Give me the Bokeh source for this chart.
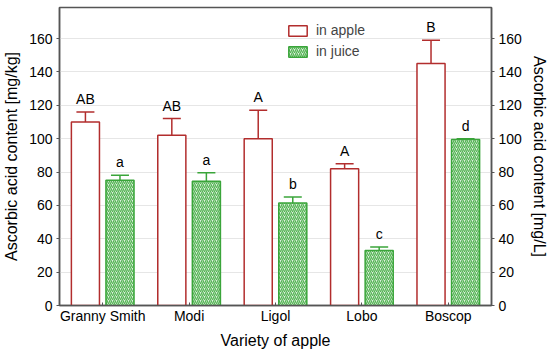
from bokeh.plotting import figure
from bokeh.models import (ColumnDataSource, FactorRange, LinearAxis, Whisker, TeeHead,
                          Range1d, Legend, LegendItem)
from bokeh.transform import dodge
from bokeh.core.properties import value
from bokeh.embed import file_html
from bokeh.resources import INLINE

varieties = ["Granny Smith", "Modi", "Ligol", "Lobo", "Boscop"]
apple_mean = [110, 102, 100, 82, 145]
apple_lower = [104.5, 92, 84, 80, 131]
apple_upper = [116, 112, 117, 85, 159]
apple_letters = ["AB", "AB", "A", "A", "B"]
juice_mean = [75, 74.5, 61.5, 33, 99.5]
juice_lower = [72, 69.5, 58, 32, 99]
juice_upper = [78, 79.5, 65, 35, 100]
juice_letters = ["a", "a", "b", "c", "d"]
y_ticks = [0, 20, 40, 60, 80, 100, 120, 140, 160]

FONT = "Liberation Sans"
RED = "#b22d2d"
GREEN = "#3aa53a"

src = ColumnDataSource(dict(
    cat=varieties,
    am=apple_mean, al=apple_lower, au=apple_upper, at=apple_letters,
    jm=juice_mean, jl=juice_lower, ju=juice_upper, jt=juice_letters,
))

p = figure(width=550, height=355, output_backend="svg", toolbar_location=None,
           x_range=FactorRange(*varieties, start=-0.2, end=5.24),
           y_range=Range1d(0, 178.6),
           min_border_left=58, min_border_right=58, min_border_top=7, min_border_bottom=50)

ab = p.vbar(x=dodge("cat", -0.2, range=p.x_range), top="am", width=0.325, source=src,
            fill_color="white", line_color=RED, line_width=1.5)
jb = p.vbar(x=dodge("cat", 0.2, range=p.x_range), top="jm", width=0.325, source=src,
            fill_color="#dcf0dc", line_color=GREEN, line_width=1.5,
            hatch_pattern="/", hatch_color="#55b455", hatch_scale=4, hatch_weight=1.3)

w1 = Whisker(source=src, base=dodge("cat", -0.2, range=p.x_range), lower="al", upper="au",
             line_color=RED, line_width=1.5,
             upper_head=TeeHead(size=18, line_color=RED, line_width=1.5),
             lower_head=TeeHead(size=18, line_color=RED, line_width=1.5))
w2 = Whisker(source=src, base=dodge("cat", 0.2, range=p.x_range), lower="jl", upper="ju",
             line_color=GREEN, line_width=1.5,
             upper_head=TeeHead(size=18, line_color=GREEN, line_width=1.5),
             lower_head=TeeHead(size=18, line_color=GREEN, line_width=1.5))
p.add_layout(w1)
p.add_layout(w2)

p.text(x=dodge("cat", -0.2, range=p.x_range), y="au", text="at", source=src,
       text_align="center", text_baseline="bottom", y_offset=-5,
       text_font=value(FONT), text_font_size="14px", text_color="black")
p.text(x=dodge("cat", 0.2, range=p.x_range), y="ju", text="jt", source=src,
       text_align="center", text_baseline="bottom", y_offset=-5,
       text_font=value(FONT), text_font_size="14px", text_color="black")

legend = Legend(items=[LegendItem(label="in apple", renderers=[ab]),
                       LegendItem(label="in juice", renderers=[jb])],
                location=(227, 246), orientation="vertical",
                glyph_width=23, glyph_height=13, label_height=13, spacing=5,
                padding=0, margin=0, label_standoff=7,
                label_text_font=FONT, label_text_font_size="14px",
                background_fill_alpha=0, border_line_alpha=0)
p.add_layout(legend)

AX = "#555555"
p.yaxis.ticker = y_ticks
p.yaxis.axis_label = "Ascorbic acid content [mg/kg]"
right = LinearAxis(axis_label="Ascorbic acid content [mg/L]", ticker=y_ticks)
p.add_layout(right, "right")
p.xaxis.axis_label = "Variety of apple"

for ax in p.yaxis + [right]:
    ax.major_label_text_font = FONT
    ax.major_label_text_font_size = "14px"
    ax.major_label_text_color = "black"
    ax.axis_label_text_font = FONT
    ax.axis_label_text_font_size = "16px"
    ax.axis_label_text_font_style = "normal"
    ax.axis_label_text_color = "black"
    ax.axis_line_color = AX
    ax.axis_line_width = 1.5
    ax.major_tick_line_color = AX
    ax.major_tick_out = 3
    ax.major_tick_in = 0
    ax.minor_tick_line_color = None
    ax.major_label_standoff = 4
    ax.axis_label_standoff = 6

xa = p.xaxis[0]
xa.major_label_text_font = FONT
xa.major_label_text_font_size = "14px"
xa.major_label_text_color = "black"
xa.axis_label_text_font = FONT
xa.axis_label_text_font_size = "16px"
xa.axis_label_text_font_style = "normal"
xa.axis_label_text_color = "black"
xa.axis_line_color = AX
xa.axis_line_width = 1.5
xa.major_tick_line_color = AX
xa.major_tick_out = 0
xa.major_tick_in = 3
xa.major_label_standoff = 2
xa.axis_label_standoff = 5

p.xgrid.grid_line_color = None
p.ygrid.grid_line_color = "#e6e6e6"
p.ygrid.ticker = y_ticks
p.outline_line_color = AX
p.outline_line_width = 1.5

open("out.html", "w").write(file_html(p, INLINE))
